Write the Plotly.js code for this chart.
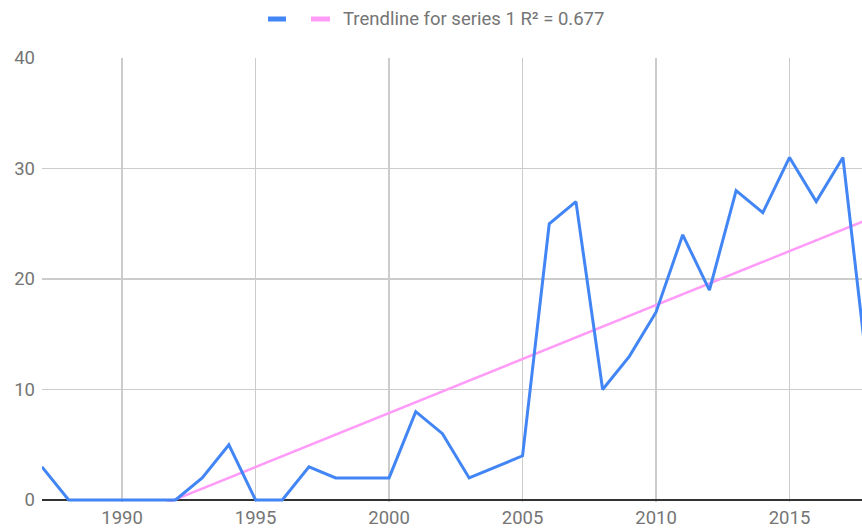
<!DOCTYPE html>
<html>
<head>
<meta charset="utf-8">
<script src="https://cdn.plot.ly/plotly-3.0.1.min.js"></script>
<style>
  html, body { margin: 0; padding: 0; background: #fff; }
  #chart { width: 862px; height: 529px; }
</style>
</head>
<body>
<div id="chart"></div>
<script>
// Yearly counts, series 1
const years = [1987, 1988, 1989, 1990, 1991, 1992, 1993, 1994, 1995, 1996,
               1997, 1998, 1999, 2000, 2001, 2002, 2003, 2004, 2005, 2006,
               2007, 2008, 2009, 2010, 2011, 2012, 2013, 2014, 2015, 2016,
               2017, 2018];
const counts = [3, 0, 0, 0, 0, 0, 2, 5, 0, 0,
                3, 2, 2, 2, 8, 6, 2, 3, 4, 25,
                27, 10, 13, 17, 24, 19, 28, 26, 31, 27,
                31, 10];
const seriesName = '';
const trendLabel = 'Trendline for series 1 R\u00B2 = 0.677';
const xTicks = [1990, 1995, 2000, 2005, 2010, 2015];
const yTicks = [0, 10, 20, 30, 40];

// Least-squares linear trendline through the series
function linearFit(xs, ys) {
  const n = xs.length;
  const mx = xs.reduce((a, b) => a + b, 0) / n;
  const my = ys.reduce((a, b) => a + b, 0) / n;
  let sxy = 0, sxx = 0;
  for (let i = 0; i < n; i++) {
    sxy += (xs[i] - mx) * (ys[i] - my);
    sxx += (xs[i] - mx) * (xs[i] - mx);
  }
  const slope = sxy / sxx;
  return { slope, intercept: my - slope * mx };
}
const fit = linearFit(years, counts);
const trendX = [years[0], years[years.length - 1]];
const trendY = trendX.map(x => fit.intercept + fit.slope * x);

const BLUE = '#4285f4';
const PINK = '#ff9cf8';
const GREY = '#757575';
const FS = 18.5;

const traces = [
  {
    x: trendX, y: trendY, mode: 'lines', name: trendLabel,
    line: { color: PINK, width: 2.5 }, hoverinfo: 'skip', showlegend: false
  },
  {
    x: years, y: counts, mode: 'lines', name: seriesName,
    line: { color: BLUE, width: 3 }, showlegend: false
  }
];

const layout = {
  width: 862, height: 529,
  margin: { l: 42, r: 0, t: 58, b: 27 },
  paper_bgcolor: '#ffffff', plot_bgcolor: '#ffffff',
  font: { family: 'Roboto, Arial, sans-serif', size: FS, color: GREY },
  showlegend: false,
  xaxis: {
    range: [1987, 2017.715],
    tickmode: 'array', tickvals: xTicks, ticktext: xTicks.map(String),
    showgrid: true, gridcolor: '#cccccc', gridwidth: 1.2,
    zeroline: false, showline: false, ticks: '', ticklabelstandoff: 2,
    tickfont: { size: FS, color: GREY }
  },
  yaxis: {
    range: [-0.18, 40],
    tickmode: 'array', tickvals: yTicks, ticktext: yTicks.map(String),
    showgrid: true, gridcolor: '#cccccc', gridwidth: 1.2,
    zeroline: true, zerolinecolor: '#333333', zerolinewidth: 1.2,
    showline: false, ticks: '', ticklabelstandoff: 6,
    tickfont: { size: FS, color: GREY }
  },
  // Legend row drawn above the plot
  shapes: [
    { type: 'rect', xref: 'paper', yref: 'paper',
      x0: (268 - 42) / 820, x1: (286 - 42) / 820,
      y0: (502 - 21.5) / 444, y1: (502 - 16.5) / 444,
      fillcolor: BLUE, line: { width: 0 } },
    { type: 'rect', xref: 'paper', yref: 'paper',
      x0: (311 - 42) / 820, x1: (330 - 42) / 820,
      y0: (502 - 21.5) / 444, y1: (502 - 16.5) / 444,
      fillcolor: PINK, line: { width: 0 } }
  ],
  annotations: [
    { xref: 'paper', yref: 'paper',
      x: (341 - 42) / 820, y: (502 - 19) / 444,
      xanchor: 'left', yanchor: 'middle', showarrow: false,
      text: trendLabel, font: { size: FS, color: GREY } }
  ]
};

Plotly.newPlot('chart', traces, layout, { staticPlot: true, displayModeBar: false });
</script>
</body>
</html>
